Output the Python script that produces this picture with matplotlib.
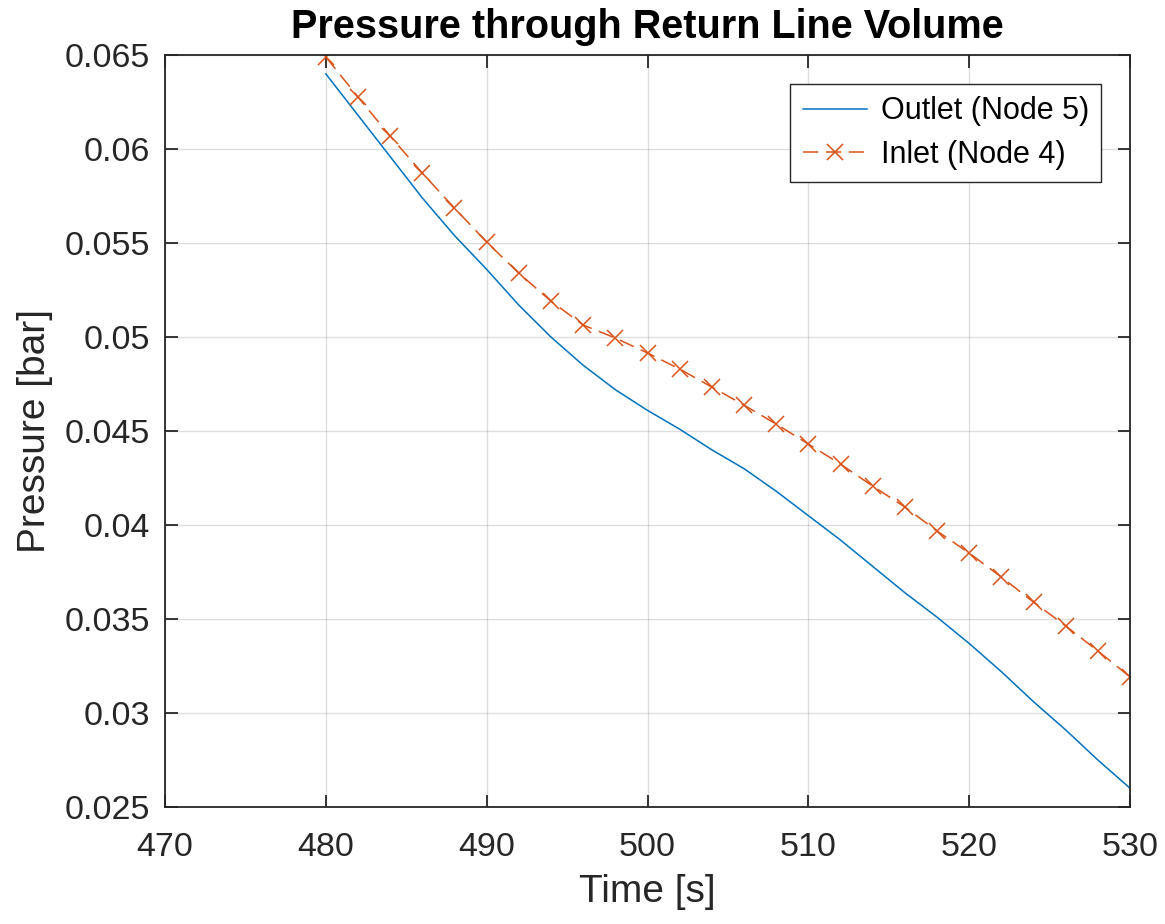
import matplotlib.pyplot as plt

# time samples (s)
time = [480, 482, 484, 486, 488, 490, 492, 494, 496, 498, 500, 502, 504,
        506, 508, 510, 512, 514, 516, 518, 520, 522, 524, 526, 528, 530]

# pressure at outlet, node 5 (bar)
outlet = [0.0640, 0.0618, 0.0596, 0.0574, 0.0554, 0.0536, 0.0517, 0.0500,
          0.0485, 0.0472, 0.0461, 0.0451, 0.0440, 0.0430, 0.0418, 0.0405,
          0.0392, 0.0378, 0.0364, 0.0351, 0.0337, 0.0322, 0.0306, 0.0291,
          0.0275, 0.0260]

# pressure at inlet, node 4 (bar)
inlet = [0.0649, 0.06277, 0.06069, 0.05872, 0.05686, 0.05505, 0.05340,
         0.05191, 0.05064, 0.04995, 0.04915, 0.04830, 0.04734, 0.04638,
         0.04537, 0.04431, 0.04324, 0.04207, 0.04096, 0.03968, 0.03851,
         0.03723, 0.03590, 0.03463, 0.03330, 0.03192]

xticks = [470, 480, 490, 500, 510, 520, 530]
yticks = [0.025, 0.03, 0.035, 0.04, 0.045, 0.05, 0.055, 0.06, 0.065]
ytick_labels = ['0.025', '0.03', '0.035', '0.04', '0.045', '0.05', '0.055', '0.06', '0.065']

plt.rcParams['font.family'] = ['Liberation Sans', 'DejaVu Sans']

fig = plt.figure(figsize=(11.65, 9.24), dpi=100)
ax = fig.add_axes([0.1416, 0.1266, 0.8284, 0.8138])

ax.plot(time, outlet, color='#0072BD', linewidth=1.1, label='Outlet (Node 5)')
ax.plot(time, inlet, color='#D95319', linewidth=1.1, linestyle=(0, (10, 5)),
        marker='x', markersize=11, markeredgewidth=1.1, label='Inlet (Node 4)')

ax.set_xlim(470, 530)
ax.set_ylim(0.025, 0.065)
ax.set_xticks(xticks)
ax.set_yticks(yticks)
ax.set_yticklabels(ytick_labels)

ax.grid(True, color='#262626', alpha=0.15, linewidth=1)
ax.set_axisbelow(True)
ax.tick_params(direction='in', top=True, right=True, length=9, width=1.3,
               labelsize=24.5, colors='#262626', pad=11)
ax.tick_params(axis='x', pad=18)
for s in ax.spines.values():
    s.set_linewidth(1.3)
    s.set_color('#262626')

ax.set_xlabel('Time [s]', fontsize=28, color='#262626', labelpad=8)
ax.set_ylabel('Pressure [bar]', fontsize=28, color='#262626', labelpad=8)
ax.set_title('Pressure through Return Line Volume', fontsize=28.5,
             fontweight='bold', pad=12)

leg = ax.legend(loc='upper right', fontsize=22, fancybox=False, framealpha=1,
                edgecolor='#262626', borderpad=0.4, handlelength=2.1,
                handletextpad=0.45, labelspacing=0.45, borderaxespad=0,
                bbox_to_anchor=(0.970, 0.9614))
leg.get_frame().set_linewidth(1.0)

fig.savefig('out.png', dpi=100)
